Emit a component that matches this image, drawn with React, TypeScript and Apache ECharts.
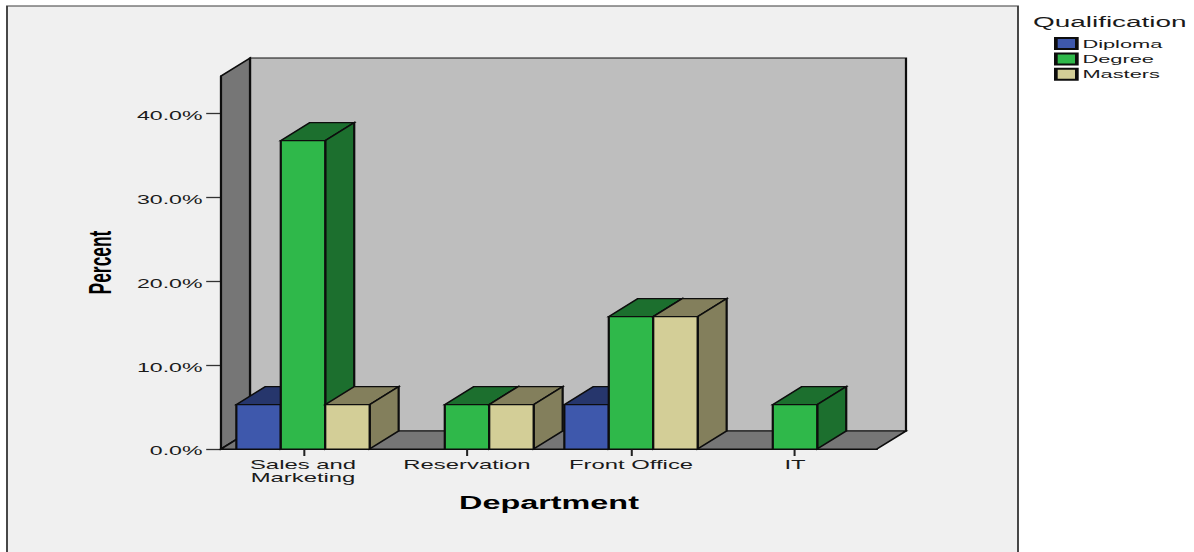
import React, { useEffect, useRef } from "react";
import * as echarts from "echarts";

const departments = ["Sales and\nMarketing", "Reservation", "Front Office", "IT"];
const qualifications = ["Diploma", "Degree", "Masters"];
const diploma = [5.3, null, 5.3, null];
const degree = [36.8, 5.3, 15.8, 5.3];
const masters = [5.3, 5.3, 15.8, null];
const percentTicks = [0, 10, 20, 30, 40];

const faceColors = ["#3e58ac", "#2fb84a", "#d3ce97"];
const shadeColors = ["#26366c", "#1c6f2e", "#837f5c"];
const allValues = [diploma, degree, masters];

// The drawing is laid out narrow and widened as a whole, which gives the wide glyphs
// and the heavier vertical strokes of this chart style.
const STRETCH = 1.85;
const W = 1194;
const H = 552;
const px = (x: number) => x / STRETCH;

const DEPTH_X = px(29);
const DEPTH_Y = 18;
const STROKE = "#0d0d0d";
const LINE = 1.2;
const BAR_SHARE = 0.271;

const line = { stroke: STROKE, lineWidth: LINE, lineJoin: "miter" };

function poly(points: number[][], fill: string) {
  return { type: "polygon", shape: { points }, style: { fill, ...line } };
}

// Back wall, side wall and floor of the 3-D box around the plot.
function renderBox(params: any) {
  const { x, y, width, height } = params.coordSys;
  const b = y + height;
  const r = x + width;
  return {
    type: "group",
    children: [
      poly(
        [
          [x + DEPTH_X, y - DEPTH_Y],
          [r + DEPTH_X, y - DEPTH_Y],
          [r + DEPTH_X, b - DEPTH_Y],
          [x + DEPTH_X, b - DEPTH_Y],
        ],
        "#bebebe",
      ),
      poly(
        [
          [x, b],
          [x, y],
          [x + DEPTH_X, y - DEPTH_Y],
          [x + DEPTH_X, b - DEPTH_Y],
        ],
        "#767676",
      ),
      poly(
        [
          [x, b],
          [r, b],
          [r + DEPTH_X, b - DEPTH_Y],
          [x + DEPTH_X, b - DEPTH_Y],
        ],
        "#767676",
      ),
    ],
  };
}

// One extruded bar; each qualification keeps its own slot in the three-bar cluster
// around the department's tick, even where a neighbouring slot is empty.
function renderBar(seriesIndex: number) {
  return (_params: any, api: any) => {
    const cat = api.value(0);
    const [cx, y0] = api.coord([cat, 0]);
    const [, y1] = api.coord([cat, api.value(1)]);
    const w = api.size([1, 0])[0] * BAR_SHARE;
    const l = cx + (seriesIndex - 1.5) * w;
    const r = l + w;
    return {
      type: "group",
      children: [
        poly(
          [
            [l, y1],
            [l + DEPTH_X, y1 - DEPTH_Y],
            [r + DEPTH_X, y1 - DEPTH_Y],
            [r, y1],
          ],
          shadeColors[seriesIndex],
        ),
        poly(
          [
            [r, y1],
            [r + DEPTH_X, y1 - DEPTH_Y],
            [r + DEPTH_X, y0 - DEPTH_Y],
            [r, y0],
          ],
          shadeColors[seriesIndex],
        ),
        poly(
          [
            [l, y1],
            [r, y1],
            [r, y0],
            [l, y0],
          ],
          faceColors[seriesIndex],
        ),
      ],
    };
  };
}

const FONT = "'Liberation Sans', Arial, sans-serif";
const TEXT = "#1a1a1a";

export default function App() {
  const ref = useRef<HTMLDivElement>(null);

  useEffect(() => {
    if (!ref.current) return;
    const chart = echarts.init(ref.current, null, { renderer: "svg" });
    chart.setOption({
      animation: false,
      backgroundColor: "#ffffff",
      textStyle: { fontFamily: FONT },
      graphic: [
        {
          type: "rect",
          z: -10,
          silent: true,
          shape: { x: px(7), y: 6, width: px(1011), height: 570 },
          style: { fill: "#f0f0f0", stroke: "#3a3a3a", lineWidth: 1 },
        },
      ],
      title: {
        text: "Qualification",
        left: px(1033),
        top: 14,
        padding: 0,
        textStyle: { fontFamily: FONT, fontSize: 15.1, fontWeight: "normal", color: TEXT },
      },
      legend: {
        orient: "vertical",
        icon: "rect",
        left: px(1054),
        top: 37,
        padding: 0,
        itemWidth: px(21),
        itemHeight: 11,
        itemGap: 2.4,
        data: qualifications,
        selectedMode: false,
        textStyle: { fontFamily: FONT, fontSize: 11.8, color: TEXT, padding: [0, 0, 0, -2] },
      },
      grid: { left: px(221), width: px(656), top: 76, height: 373 },
      xAxis: {
        type: "category",
        data: departments,
        name: "Department",
        nameLocation: "middle",
        nameGap: 45,
        nameTextStyle: { fontFamily: FONT, fontSize: 17.5, fontWeight: "bold", color: "#000" },
        axisLine: { show: true, lineStyle: { color: STROKE, width: LINE } },
        axisTick: { show: true, alignWithLabel: true, length: 7, lineStyle: { color: "#222", width: 1.1 } },
        axisLabel: {
          interval: 0,
          margin: 9,
          fontFamily: FONT,
          fontSize: 12.9,
          lineHeight: 13,
          color: TEXT,
        },
      },
      yAxis: {
        type: "value",
        min: 0,
        max: 44.5,
        interval: 10,
        name: "Percent",
        nameLocation: "middle",
        nameGap: 57,
        nameTextStyle: { fontFamily: FONT, fontSize: 17.4, fontWeight: "bold", color: "#000" },
        splitLine: { show: false },
        axisLine: { show: true, lineStyle: { color: STROKE, width: LINE } },
        axisTick: { show: true, length: 8, customValues: percentTicks, lineStyle: { color: "#333", width: 1.3 } },
        axisLabel: {
          customValues: percentTicks,
          margin: 10,
          fontFamily: FONT,
          fontSize: 12.5,
          color: TEXT,
          // the labels sit slightly below their tick marks
          verticalAlign: "top",
          lineHeight: 4,
          formatter: (v: number) => `${v.toFixed(1)}%`,
        },
      },
      series: [
        {
          type: "custom",
          silent: true,
          z: 1,
          data: [[0, 0]],
          renderItem: renderBox,
        },
        ...qualifications.map((name, i) => ({
          type: "custom",
          name,
          z: 2 + i,
          silent: true,
          itemStyle: { color: faceColors[i], borderColor: STROKE, borderWidth: 1 },
          encode: { x: 0, y: 1 },
          data: allValues[i].map((v, c) => [c, v]).filter((d) => d[1] != null),
          renderItem: renderBar(i),
        })),
      ],
    });
    return () => chart.dispose();
  }, []);

  return (
    <div
      ref={ref}
      style={{
        position: "fixed",
        left: 0,
        top: 0,
        width: W / STRETCH,
        height: H,
        transformOrigin: "0 0",
        transform: `scaleX(${STRETCH})`,
      }}
    />
  );
}
